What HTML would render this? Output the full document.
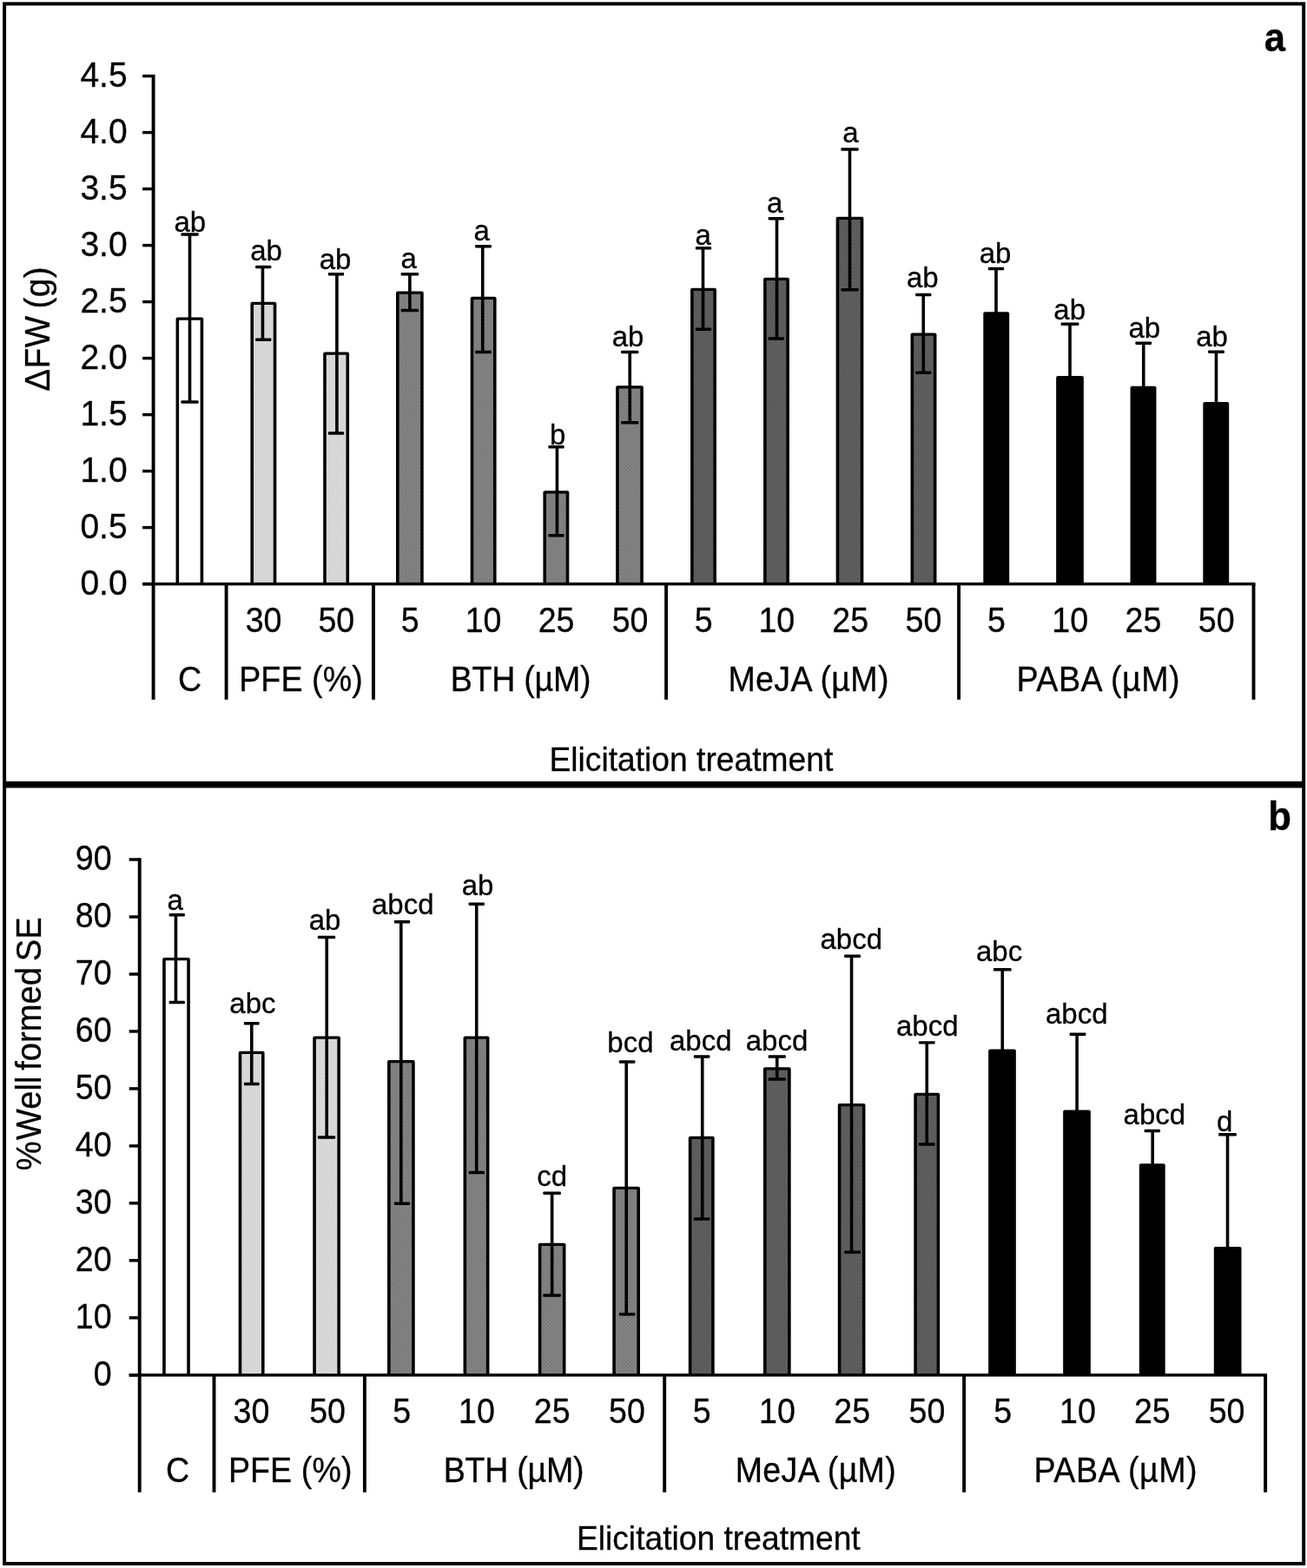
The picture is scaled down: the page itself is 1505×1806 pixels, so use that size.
<!DOCTYPE html>
<html lang="en">
<head>
<meta charset="utf-8">
<title>Elicitation treatment: fresh weight gain and well formed somatic embryos</title>
<style>
html,body{margin:0;padding:0;background:#fff;}
body{width:1505px;height:1806px;overflow:hidden;}
svg{display:block;font-family:"Liberation Sans",Arial,Helvetica,sans-serif;fill:#000;}
svg .t text{fill:#000;stroke:#000;stroke-width:0.3px;}
</style>
</head>
<body>
<svg width="1505" height="1806" viewBox="0 0 1505 1806">
<defs>
<pattern id="pfe" width="4" height="4" patternUnits="userSpaceOnUse"><rect width="4" height="4" fill="#dadada"/><rect width="2" height="2" fill="#d4d4d4"/><rect x="2" y="2" width="2" height="2" fill="#d4d4d4"/></pattern>
<pattern id="bth" width="4" height="4" patternUnits="userSpaceOnUse"><rect width="4" height="4" fill="#848484"/><rect width="2" height="2" fill="#7a7a7a"/><rect x="2" y="2" width="2" height="2" fill="#7a7a7a"/></pattern>
<pattern id="meja" width="4" height="4" patternUnits="userSpaceOnUse"><rect width="4" height="4" fill="#606060"/><rect width="2" height="2" fill="#585858"/><rect x="2" y="2" width="2" height="2" fill="#585858"/></pattern>
<filter id="soft" x="0" y="0" width="100%" height="100%" filterUnits="userSpaceOnUse" color-interpolation-filters="sRGB"><feGaussianBlur stdDeviation="0.55"/></filter>
</defs>
<rect width="1505" height="1806" fill="#fff"/>
<g filter="url(#soft)">
<rect width="1505" height="1806" fill="#fff"/>
<g class="frame">
<rect x="3.1" y="2.4" width="1500.1" height="1800.6"/>
<rect x="7.1" y="6.4" width="1492.1" height="893.5" fill="#fff"/>
<rect x="7.1" y="907.5" width="1492.1" height="891.5" fill="#fff"/>
</g>
<g id="panel-a">
<g class="bars">
<rect x="202.53" y="365.55" width="31.7" height="307.05" rx="2"/>
<rect x="206.12" y="368.75" width="24.5" height="303.85" fill="#ffffff"/>
<rect x="288.43" y="347.8" width="29.9" height="324.8" rx="2"/>
<rect x="292.03" y="351" width="22.7" height="321.6" fill="url(#pfe)"/>
<rect x="372.18" y="405.55" width="29.9" height="267.05" rx="2"/>
<rect x="375.78" y="408.75" width="22.7" height="263.85" fill="url(#pfe)"/>
<rect x="456.02" y="335.55" width="31.7" height="337.05" rx="2"/>
<rect x="459.62" y="338.75" width="24.5" height="333.85" fill="url(#bth)"/>
<rect x="541.67" y="341.8" width="29.9" height="330.8" rx="2"/>
<rect x="545.27" y="345" width="22.7" height="327.6" fill="url(#bth)"/>
<rect x="625.42" y="565.3" width="29.9" height="107.3" rx="2"/>
<rect x="629.02" y="568.5" width="22.7" height="104.1" fill="url(#bth)"/>
<rect x="709.15" y="444.3" width="31.7" height="228.3" rx="2"/>
<rect x="712.75" y="447.5" width="24.5" height="225.1" fill="url(#bth)"/>
<rect x="795.05" y="331.8" width="29.9" height="340.8" rx="2"/>
<rect x="798.65" y="335" width="22.7" height="337.6" fill="url(#meja)"/>
<rect x="879.05" y="319.8" width="29.9" height="352.8" rx="2"/>
<rect x="882.65" y="323" width="22.7" height="349.6" fill="url(#meja)"/>
<rect x="962.65" y="249.8" width="31.7" height="422.8" rx="2"/>
<rect x="966.25" y="253" width="24.5" height="419.6" fill="url(#meja)"/>
<rect x="1048.55" y="383.55" width="29.9" height="289.05" rx="2"/>
<rect x="1052.15" y="386.75" width="22.7" height="285.85" fill="url(#meja)"/>
<rect x="1132.3" y="359.3" width="29.9" height="313.3" rx="2"/>
<rect x="1216.15" y="433.05" width="31.7" height="239.55" rx="2"/>
<rect x="1301.55" y="444.8" width="29.9" height="227.8" rx="2"/>
<rect x="1385.3" y="463.05" width="29.9" height="209.55" rx="2"/>
</g>
<g class="err">
<rect x="216.7" y="270" width="3.6" height="193"/>
<rect x="208.35" y="268.35" width="20.3" height="3.3" rx="1"/>
<rect x="208.35" y="461.35" width="20.3" height="3.3" rx="1"/>
<rect x="300.65" y="307.5" width="3.6" height="83.75"/>
<rect x="294.1" y="305.85" width="18.3" height="3.3" rx="1"/>
<rect x="294.1" y="389.6" width="18.3" height="3.3" rx="1"/>
<rect x="386.1" y="315.75" width="3.6" height="183.25"/>
<rect x="377.85" y="314.1" width="18.3" height="3.3" rx="1"/>
<rect x="377.85" y="497.35" width="18.3" height="3.3" rx="1"/>
<rect x="470.07" y="315.75" width="3.6" height="41.75"/>
<rect x="461.6" y="314.1" width="20.55" height="3.3" rx="1"/>
<rect x="461.6" y="355.85" width="20.55" height="3.3" rx="1"/>
<rect x="553.95" y="283.75" width="3.6" height="121.75"/>
<rect x="547.1" y="282.1" width="18.8" height="3.3" rx="1"/>
<rect x="547.1" y="403.85" width="18.8" height="3.3" rx="1"/>
<rect x="639.65" y="514.75" width="3.6" height="102"/>
<rect x="631.35" y="513.1" width="18.3" height="3.3" rx="1"/>
<rect x="631.35" y="615.1" width="18.3" height="3.3" rx="1"/>
<rect x="723.45" y="405.5" width="3.6" height="81.25"/>
<rect x="715.1" y="403.85" width="20.3" height="3.3" rx="1"/>
<rect x="715.1" y="485.1" width="20.3" height="3.3" rx="1"/>
<rect x="807.7" y="285.75" width="3.6" height="93.5"/>
<rect x="800.85" y="284.1" width="18.3" height="3.3" rx="1"/>
<rect x="800.85" y="377.6" width="18.3" height="3.3" rx="1"/>
<rect x="892.7" y="251.75" width="3.6" height="138.25"/>
<rect x="884.6" y="250.1" width="18.3" height="3.3" rx="1"/>
<rect x="884.6" y="388.35" width="18.3" height="3.3" rx="1"/>
<rect x="976.7" y="172" width="3.6" height="161.75"/>
<rect x="968.35" y="170.35" width="20.3" height="3.3" rx="1"/>
<rect x="968.35" y="332.1" width="20.3" height="3.3" rx="1"/>
<rect x="1061.45" y="339.5" width="3.6" height="89.75"/>
<rect x="1054.1" y="337.85" width="18.3" height="3.3" rx="1"/>
<rect x="1054.1" y="427.6" width="18.3" height="3.3" rx="1"/>
<rect x="1145.2" y="309.5" width="3.6" height="90.5"/>
<rect x="1137.85" y="307.85" width="18.3" height="3.3" rx="1"/>
<rect x="1137.85" y="398.35" width="18.3" height="3.3" rx="1"/>
<rect x="1230.2" y="373.25" width="3.6" height="96.75"/>
<rect x="1221.6" y="371.6" width="20.8" height="3.3" rx="1"/>
<rect x="1221.6" y="468.35" width="20.8" height="3.3" rx="1"/>
<rect x="1314.95" y="395.25" width="3.6" height="84.75"/>
<rect x="1307.35" y="393.6" width="18.8" height="3.3" rx="1"/>
<rect x="1307.35" y="478.35" width="18.8" height="3.3" rx="1"/>
<rect x="1398.7" y="405.25" width="3.6" height="94.75"/>
<rect x="1391.1" y="403.6" width="18.8" height="3.3" rx="1"/>
<rect x="1391.1" y="498.35" width="18.8" height="3.3" rx="1"/>
</g>
<g class="axes">
<rect x="174.65" y="85.88" width="3.9" height="719.92"/>
<rect x="164.1" y="670.88" width="1281.4" height="3.45"/>
<rect x="164.1" y="85.88" width="12.5" height="3.45"/>
<rect x="164.1" y="150.88" width="12.5" height="3.45"/>
<rect x="164.1" y="215.88" width="12.5" height="3.45"/>
<rect x="164.1" y="280.88" width="12.5" height="3.45"/>
<rect x="164.1" y="345.88" width="12.5" height="3.45"/>
<rect x="164.1" y="410.88" width="12.5" height="3.45"/>
<rect x="164.1" y="475.88" width="12.5" height="3.45"/>
<rect x="164.1" y="540.88" width="12.5" height="3.45"/>
<rect x="164.1" y="605.88" width="12.5" height="3.45"/>
<rect x="164.1" y="670.88" width="12.5" height="3.45"/>
<rect x="258.65" y="672.6" width="3.9" height="133.2"/>
<rect x="428.05" y="672.6" width="3.9" height="133.2"/>
<rect x="765.15" y="672.6" width="3.9" height="133.2"/>
<rect x="1102.15" y="672.6" width="3.9" height="133.2"/>
<rect x="1441.55" y="672.6" width="3.9" height="133.2"/>
</g>
<g class="t" font-size="40" text-anchor="end">
<text transform="translate(146.6 99.9) scale(0.975 1)">4.5</text>
<text transform="translate(146.6 164.9) scale(0.975 1)">4.0</text>
<text transform="translate(146.6 229.9) scale(0.975 1)">3.5</text>
<text transform="translate(146.6 294.9) scale(0.975 1)">3.0</text>
<text transform="translate(146.6 359.9) scale(0.975 1)">2.5</text>
<text transform="translate(146.6 424.9) scale(0.975 1)">2.0</text>
<text transform="translate(146.6 489.9) scale(0.975 1)">1.5</text>
<text transform="translate(146.6 554.9) scale(0.975 1)">1.0</text>
<text transform="translate(146.6 619.9) scale(0.975 1)">0.5</text>
<text transform="translate(146.6 684.9) scale(0.975 1)">0.0</text>
</g>
<g class="t" font-size="40" text-anchor="middle">
<text transform="translate(303.6 728.3) scale(0.94 1)">30</text>
<text transform="translate(387.3 728.3) scale(0.94 1)">50</text>
<text transform="translate(472.3 728.3) scale(0.94 1)">5</text>
<text transform="translate(556.6 728.3) scale(0.94 1)">10</text>
<text transform="translate(640.6 728.3) scale(0.94 1)">25</text>
<text transform="translate(725.6 728.3) scale(0.94 1)">50</text>
<text transform="translate(810.2 728.3) scale(0.94 1)">5</text>
<text transform="translate(894.3 728.3) scale(0.94 1)">10</text>
<text transform="translate(979.2 728.3) scale(0.94 1)">25</text>
<text transform="translate(1063.4 728.3) scale(0.94 1)">50</text>
<text transform="translate(1147.4 728.3) scale(0.94 1)">5</text>
<text transform="translate(1232.2 728.3) scale(0.94 1)">10</text>
<text transform="translate(1316.4 728.3) scale(0.94 1)">25</text>
<text transform="translate(1400.7 728.3) scale(0.94 1)">50</text>
<text transform="translate(218.6 795.8) scale(0.94 1)">C</text>
<text transform="translate(346.5 795.8) scale(0.94 1)" letter-spacing="0.1">PFE (%)</text>
<text transform="translate(599.5 795.8) scale(0.94 1)" letter-spacing="-0.25">BTH (µM)</text>
<text transform="translate(931.1 795.8) scale(0.94 1)" letter-spacing="0.35">MeJA (µM)</text>
<text transform="translate(1264.8 795.8) scale(0.94 1)" letter-spacing="0.55">PABA (µM)</text>
<text transform="translate(795.9 887.7) scale(0.94 1)" font-size="39.6">Elicitation treatment</text>
<text transform="translate(56.9 378.9) rotate(-90) scale(0.97 1)" font-size="40" word-spacing="-3.3" letter-spacing="0.4">ΔFW (g)</text>
<text transform="translate(1467.8 58.5) scale(0.95 1)" font-size="46" font-weight="bold">a</text>
</g>
<g class="t" font-size="33" text-anchor="middle">
<text transform="translate(218.75 266.55)">ab</text>
<text transform="translate(306.5 299.8)">ab</text>
<text transform="translate(386 309.55)">ab</text>
<text transform="translate(470.6 309.05)">a</text>
<text transform="translate(554.6 276.55)">a</text>
<text transform="translate(642.25 511.7)">b</text>
<text transform="translate(723.1 399.05)">ab</text>
<text transform="translate(809.6 281.55)">a</text>
<text transform="translate(892.1 245.3)">a</text>
<text transform="translate(979.4 163.55)">a</text>
<text transform="translate(1062.25 331.05)">ab</text>
<text transform="translate(1146 303.3)">ab</text>
<text transform="translate(1231.7 368.4)">ab</text>
<text transform="translate(1317.75 388.55)">ab</text>
<text transform="translate(1395.5 398.55)">ab</text>
</g>
</g>
<g id="panel-b">
<g class="bars">
<rect x="187.15" y="1103.05" width="31.7" height="480.75" rx="2"/>
<rect x="190.75" y="1106.25" width="24.5" height="477.55" fill="#ffffff"/>
<rect x="274.68" y="1210.8" width="29.9" height="373" rx="2"/>
<rect x="278.28" y="1214" width="22.7" height="369.8" fill="url(#pfe)"/>
<rect x="360.27" y="1193.55" width="31.7" height="390.25" rx="2"/>
<rect x="363.88" y="1196.75" width="24.5" height="387.05" fill="url(#pfe)"/>
<rect x="446.02" y="1221.05" width="31.7" height="362.75" rx="2"/>
<rect x="449.62" y="1224.25" width="24.5" height="359.55" fill="url(#bth)"/>
<rect x="533.55" y="1193.55" width="29.9" height="390.25" rx="2"/>
<rect x="537.15" y="1196.75" width="22.7" height="387.05" fill="url(#bth)"/>
<rect x="619.77" y="1431.8" width="31.7" height="152" rx="2"/>
<rect x="623.38" y="1435" width="24.5" height="148.8" fill="url(#bth)"/>
<rect x="705.27" y="1366.7" width="31.7" height="217.1" rx="2"/>
<rect x="708.88" y="1369.9" width="24.5" height="213.9" fill="url(#bth)"/>
<rect x="792.8" y="1308.8" width="29.9" height="275" rx="2"/>
<rect x="796.4" y="1312" width="22.7" height="271.8" fill="url(#meja)"/>
<rect x="878.95" y="1229.3" width="31.7" height="354.5" rx="2"/>
<rect x="882.55" y="1232.5" width="24.5" height="351.3" fill="url(#meja)"/>
<rect x="964.77" y="1271.05" width="31.7" height="312.75" rx="2"/>
<rect x="968.38" y="1274.25" width="24.5" height="309.55" fill="url(#meja)"/>
<rect x="1052.3" y="1258.8" width="29.9" height="325" rx="2"/>
<rect x="1055.9" y="1262" width="22.7" height="321.8" fill="url(#meja)"/>
<rect x="1138.15" y="1208.55" width="31.7" height="375.25" rx="2"/>
<rect x="1224.15" y="1278.55" width="31.7" height="305.25" rx="2"/>
<rect x="1311.8" y="1340.3" width="29.9" height="243.5" rx="2"/>
<rect x="1397.78" y="1436.05" width="31.7" height="147.75" rx="2"/>
</g>
<g class="err">
<rect x="200.65" y="1053.75" width="3.6" height="100.75"/>
<rect x="194.6" y="1052.1" width="18.3" height="3.3" rx="1"/>
<rect x="194.6" y="1152.85" width="18.3" height="3.3" rx="1"/>
<rect x="287.95" y="1178.75" width="3.6" height="69.75"/>
<rect x="280.85" y="1177.1" width="17.8" height="3.3" rx="1"/>
<rect x="280.85" y="1246.85" width="17.8" height="3.3" rx="1"/>
<rect x="374.45" y="1079.5" width="3.6" height="230.5"/>
<rect x="365.85" y="1077.85" width="20.3" height="3.3" rx="1"/>
<rect x="365.85" y="1308.35" width="20.3" height="3.3" rx="1"/>
<rect x="460" y="1061.75" width="3.6" height="324.5"/>
<rect x="453.85" y="1060.1" width="18.3" height="3.3" rx="1"/>
<rect x="453.85" y="1384.6" width="18.3" height="3.3" rx="1"/>
<rect x="546.95" y="1041.25" width="3.6" height="309.25"/>
<rect x="539.6" y="1039.6" width="18.3" height="3.3" rx="1"/>
<rect x="539.6" y="1348.85" width="18.3" height="3.3" rx="1"/>
<rect x="633.83" y="1374.25" width="3.6" height="117.75"/>
<rect x="625.35" y="1372.6" width="20.55" height="3.3" rx="1"/>
<rect x="625.35" y="1490.35" width="20.55" height="3.3" rx="1"/>
<rect x="719.43" y="1223" width="3.6" height="290.75"/>
<rect x="712.85" y="1221.35" width="18.55" height="3.3" rx="1"/>
<rect x="712.85" y="1512.1" width="18.55" height="3.3" rx="1"/>
<rect x="806.93" y="1217" width="3.6" height="187"/>
<rect x="798.85" y="1215.35" width="18.55" height="3.3" rx="1"/>
<rect x="798.85" y="1402.35" width="18.55" height="3.3" rx="1"/>
<rect x="892.95" y="1217" width="3.6" height="26"/>
<rect x="884.6" y="1215.35" width="20.3" height="3.3" rx="1"/>
<rect x="884.6" y="1241.35" width="20.3" height="3.3" rx="1"/>
<rect x="978.75" y="1101.25" width="3.6" height="341"/>
<rect x="972.1" y="1099.6" width="18.9" height="3.3" rx="1"/>
<rect x="972.1" y="1440.6" width="18.9" height="3.3" rx="1"/>
<rect x="1065.45" y="1200.9" width="3.6" height="117.1"/>
<rect x="1057.85" y="1199.25" width="18.8" height="3.3" rx="1"/>
<rect x="1057.85" y="1316.35" width="18.8" height="3.3" rx="1"/>
<rect x="1152.45" y="1116.75" width="3.6" height="183.25"/>
<rect x="1143.85" y="1115.1" width="20.8" height="3.3" rx="1"/>
<rect x="1143.85" y="1298.35" width="20.8" height="3.3" rx="1"/>
<rect x="1238.3" y="1191.25" width="3.6" height="178.75"/>
<rect x="1231.6" y="1189.6" width="18.8" height="3.3" rx="1"/>
<rect x="1231.6" y="1368.35" width="18.8" height="3.3" rx="1"/>
<rect x="1325.4" y="1302.5" width="3.6" height="77.5"/>
<rect x="1317.6" y="1300.85" width="18.4" height="3.3" rx="1"/>
<rect x="1317.6" y="1378.35" width="18.4" height="3.3" rx="1"/>
<rect x="1411.7" y="1306.75" width="3.6" height="253.25"/>
<rect x="1403.1" y="1305.1" width="20.8" height="3.3" rx="1"/>
<rect x="1403.1" y="1558.35" width="20.8" height="3.3" rx="1"/>
</g>
<g class="axes">
<rect x="158.75" y="988.27" width="3.9" height="730.52"/>
<rect x="148.7" y="1582.08" width="1310.3" height="3.45"/>
<rect x="148.7" y="988.27" width="12" height="3.45"/>
<rect x="148.7" y="1054.28" width="12" height="3.45"/>
<rect x="148.7" y="1120.28" width="12" height="3.45"/>
<rect x="148.7" y="1186.18" width="12" height="3.45"/>
<rect x="148.7" y="1252.18" width="12" height="3.45"/>
<rect x="148.7" y="1318.18" width="12" height="3.45"/>
<rect x="148.7" y="1384.08" width="12" height="3.45"/>
<rect x="148.7" y="1450.08" width="12" height="3.45"/>
<rect x="148.7" y="1516.08" width="12" height="3.45"/>
<rect x="148.7" y="1582.08" width="12" height="3.45"/>
<rect x="244.55" y="1583.8" width="3.9" height="135"/>
<rect x="417.95" y="1583.8" width="3.9" height="135"/>
<rect x="763.25" y="1583.8" width="3.9" height="135"/>
<rect x="1108.15" y="1583.8" width="3.9" height="135"/>
<rect x="1455.15" y="1583.8" width="3.9" height="135"/>
</g>
<g class="t" font-size="40" text-anchor="end">
<text transform="translate(128.6 1002.3) scale(0.94 1)">90</text>
<text transform="translate(128.6 1068.3) scale(0.94 1)">80</text>
<text transform="translate(128.6 1134.3) scale(0.94 1)">70</text>
<text transform="translate(128.6 1200.2) scale(0.94 1)">60</text>
<text transform="translate(128.6 1266.2) scale(0.94 1)">50</text>
<text transform="translate(128.6 1332.2) scale(0.94 1)">40</text>
<text transform="translate(128.6 1398.1) scale(0.94 1)">30</text>
<text transform="translate(128.6 1464.1) scale(0.94 1)">20</text>
<text transform="translate(128.6 1530.1) scale(0.94 1)">10</text>
<text transform="translate(128.6 1596.1) scale(0.94 1)">0</text>
</g>
<g class="t" font-size="40" text-anchor="middle">
<text transform="translate(289.4 1639.3) scale(0.94 1)">30</text>
<text transform="translate(377.1 1639.3) scale(0.94 1)">50</text>
<text transform="translate(462.7 1639.3) scale(0.94 1)">5</text>
<text transform="translate(549 1639.3) scale(0.94 1)">10</text>
<text transform="translate(635.7 1639.3) scale(0.94 1)">25</text>
<text transform="translate(722 1639.3) scale(0.94 1)">50</text>
<text transform="translate(808.2 1639.3) scale(0.94 1)">5</text>
<text transform="translate(895 1639.3) scale(0.94 1)">10</text>
<text transform="translate(981.2 1639.3) scale(0.94 1)">25</text>
<text transform="translate(1067.5 1639.3) scale(0.94 1)">50</text>
<text transform="translate(1154.6 1639.3) scale(0.94 1)">5</text>
<text transform="translate(1241 1639.3) scale(0.94 1)">10</text>
<text transform="translate(1326.8 1639.3) scale(0.94 1)">25</text>
<text transform="translate(1412.6 1639.3) scale(0.94 1)">50</text>
<text transform="translate(204.7 1707) scale(0.94 1)">C</text>
<text transform="translate(334.2 1707) scale(0.94 1)" letter-spacing="0.1">PFE (%)</text>
<text transform="translate(591.5 1707) scale(0.94 1)" letter-spacing="-0.25">BTH (µM)</text>
<text transform="translate(939.4 1707) scale(0.94 1)" letter-spacing="0.35">MeJA (µM)</text>
<text transform="translate(1284.8 1707) scale(0.94 1)" letter-spacing="0.55">PABA (µM)</text>
<text transform="translate(827.3 1785) scale(0.94 1)" font-size="39.6">Elicitation treatment</text>
<text transform="translate(47.2 1202.2) rotate(-90) scale(0.955 1)" font-size="40" word-spacing="-4">%<tspan dx="-6"> </tspan>Well formed SE</text>
<text transform="translate(1473.6 955.5) scale(0.95 1)" font-size="46" font-weight="bold">b</text>
</g>
<g class="t" font-size="33" text-anchor="middle">
<text transform="translate(201.6 1047.8)">a</text>
<text transform="translate(290.9 1166.75)">abc</text>
<text transform="translate(374 1070.75)">ab</text>
<text transform="translate(463.75 1053)">abcd</text>
<text transform="translate(550 1030.5)">ab</text>
<text transform="translate(635.6 1365.75)">cd</text>
<text transform="translate(725.9 1212)">bcd</text>
<text transform="translate(806.75 1210)">abcd</text>
<text transform="translate(894.5 1210)">abcd</text>
<text transform="translate(980.25 1092.5)">abcd</text>
<text transform="translate(1067.75 1192.5)">abcd</text>
<text transform="translate(1150.6 1107)">abc</text>
<text transform="translate(1239.75 1178.75)">abcd</text>
<text transform="translate(1329.4 1294.5)">abcd</text>
<text transform="translate(1410.25 1302.5)">d</text>
</g>
</g>
</g>
</svg>
</body>
</html>
